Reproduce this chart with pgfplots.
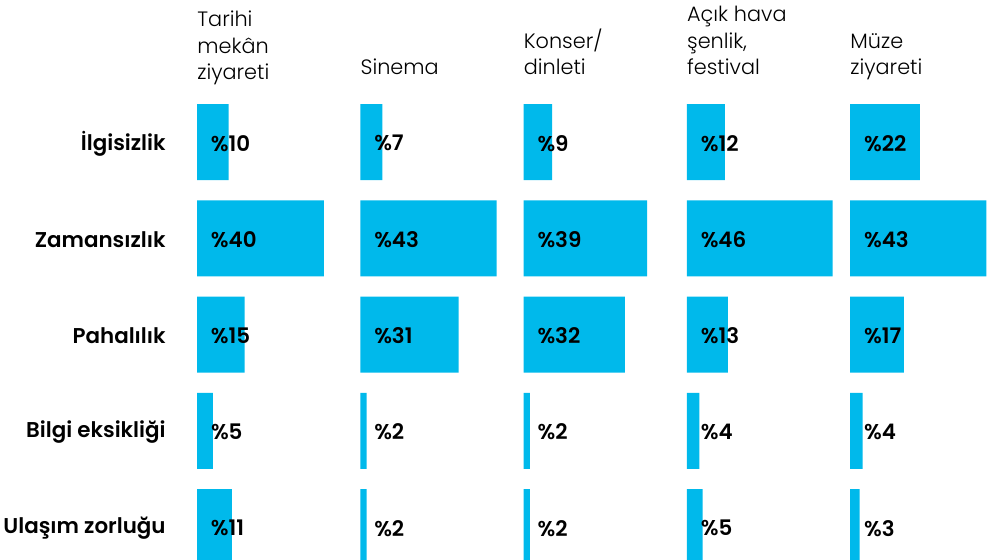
\documentclass[border=0pt]{standalone}
\usepackage{fontspec}
\setmainfont{Poppins}
\newfontfamily\hdr{Poppins Light}
\newfontfamily\semi{Poppins SemiBold}
\usepackage{pgfplots}
\pgfplotsset{compat=1.18}
\usepackage{pgfplotstable}

\definecolor{barcyan}{RGB}{0,185,235}

% reasons for not attending, share of respondents (%)
\pgfplotstableread{
row tarihi sinema konser acik muze
1   10     7      9      12   22
2   40     43     39     46   43
3   15     31     32     13   17
4   5      2      2      4    4
5   11     2      2      5    3
}\reasons

\pgfplotsset{
  panel/.style={
    xbar, x=1.585pt, y=48.125pt, y dir=reverse,
    xmin=0, xmax=50, ymin=0.5, ymax=5.5,
    anchor=north west, clip=false,
    axis line style={draw=none},
    major tick length=0pt, xtick=\empty, ytick=\empty,
    bar width=38pt,
    /pgf/number format/assume math mode=true,
    every axis title/.style={at={(0,1)}, anchor=base west, align=left,
      inner sep=0pt, yshift=9.45pt,
      font=\hdr\fontsize{10.4}{13.3}\selectfont},
    nodes near coords={\%\pgfmathprintnumber{\pgfplotspointmeta}},
    point meta=x,
    visualization depends on={rawx \as \rawx},
    every node near coord/.append style={anchor=west, inner sep=0pt,
      xshift={6.8pt-\rawx*1.585pt}, yshift=-0.6pt, text=black,
      font=\semi\fontsize{10.7}{12}\selectfont},
  },
  bars/.style={fill=barcyan, draw=none},
}

\begin{document}
\begin{tikzpicture}
\useasboundingbox (0,0) rectangle (497pt,-280pt);
\clip (0,0) rectangle (497pt,-280pt);

\begin{axis}[panel, at={(98.5pt,-46.95pt)},
  title={Tarihi\\mekân\\ziyareti},
  title style={yshift=-2.5pt},
  ytick={1,2,3,4,5},
  yticklabels={İlgisizlik,Zamansızlık,Pahalılık,Bilgi eksikliği,Ulaşım zorluğu},
  yticklabel style={anchor=east, inner sep=0pt, xshift=-15.5pt, yshift=-0.8pt,
    font=\semi\fontsize{10.7}{12}\selectfont}]
\addplot[bars] table[x=tarihi, y=row] {\reasons};
\end{axis}

\begin{axis}[panel, at={(180.125pt,-46.95pt)}, title={Sinema}]
\addplot[bars] table[x=sinema, y=row] {\reasons};
\end{axis}

\begin{axis}[panel, at={(261.75pt,-46.95pt)}, title={Konser/\\dinleti}]
\addplot[bars] table[x=konser, y=row] {\reasons};
\end{axis}

\begin{axis}[panel, at={(343.375pt,-46.95pt)}, title={Açık hava\\şenlik,\\festival}]
\addplot[bars] table[x=acik, y=row] {\reasons};
\end{axis}

\begin{axis}[panel, at={(425pt,-46.95pt)}, title={Müze\\ziyareti}]
\addplot[bars] table[x=muze, y=row] {\reasons};
\end{axis}
\end{tikzpicture}
\end{document}
